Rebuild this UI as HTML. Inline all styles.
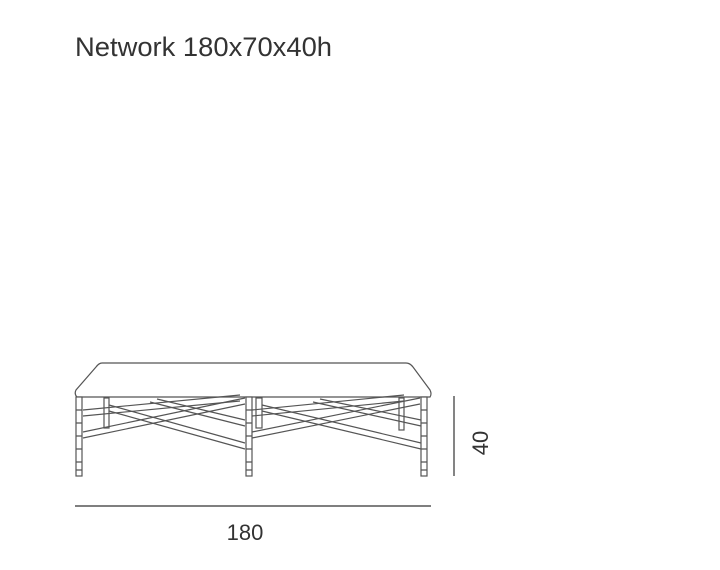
<!DOCTYPE html>
<html><head><style>html,body{margin:0;padding:0;background:#fff;}svg{display:block}</style></head>
<body>
<svg width="720" height="570" viewBox="0 0 720 570" xmlns="http://www.w3.org/2000/svg" font-family="Liberation Sans, sans-serif">
<text x="75" y="56" font-size="27" fill="#333" textLength="257" lengthAdjust="spacingAndGlyphs">Network 180x70x40h</text>
<g fill="none" stroke="#555" stroke-width="1.2">
<path d="M102,363 L406,363 Q410,363 413,367 L430,390 Q432,394 430,397 L77,397 Q74,394 76,390 L96,367 Q99,363 102,363 Z" fill="#fff"/>
<rect x="104" y="398" width="5" height="30"/>
<rect x="256" y="398" width="6" height="30"/>
<rect x="399" y="398" width="5" height="32"/>
<path d="M83,410 L240,395 M83,416 L240,401"/>
<path d="M83,432 L245,398 M83,438 L245,404"/>
<path d="M109,405 L245,443 M109,411 L245,449"/>
<path d="M157,399 L245,420 M150,402 L245,426"/>
<path d="M252,410 L404,395 M252,416 L404,401"/>
<path d="M252,432 L420,398 M252,438 L420,404"/>
<path d="M262,405 L421,443 M262,411 L421,449"/>
<path d="M320,399 L421,420 M313,402 L421,426"/>
<g fill="#fff">
<rect x="76" y="397" width="6" height="79"/>
<rect x="246" y="397" width="6" height="79"/>
<rect x="421" y="397" width="6" height="79"/>
</g>
<path d="M76,410H82M76,423H82M76,436H82M76,449H82M76,462H82M76,470H82"/>
<path d="M246,410H252M246,423H252M246,436H252M246,449H252M246,462H252M246,470H252"/>
<path d="M421,410H427M421,423H427M421,436H427M421,449H427M421,462H427M421,470H427"/>
</g>
<line x1="454" y1="396" x2="454" y2="476" stroke="#333" stroke-width="1.2"/>
<line x1="75" y1="506" x2="431" y2="506" stroke="#333" stroke-width="1.2"/>
<text x="245" y="540" font-size="22" fill="#333" text-anchor="middle">180</text>
<text transform="translate(488,443) rotate(-90)" font-size="22" fill="#333" text-anchor="middle">40</text>
</svg>
</body></html>
